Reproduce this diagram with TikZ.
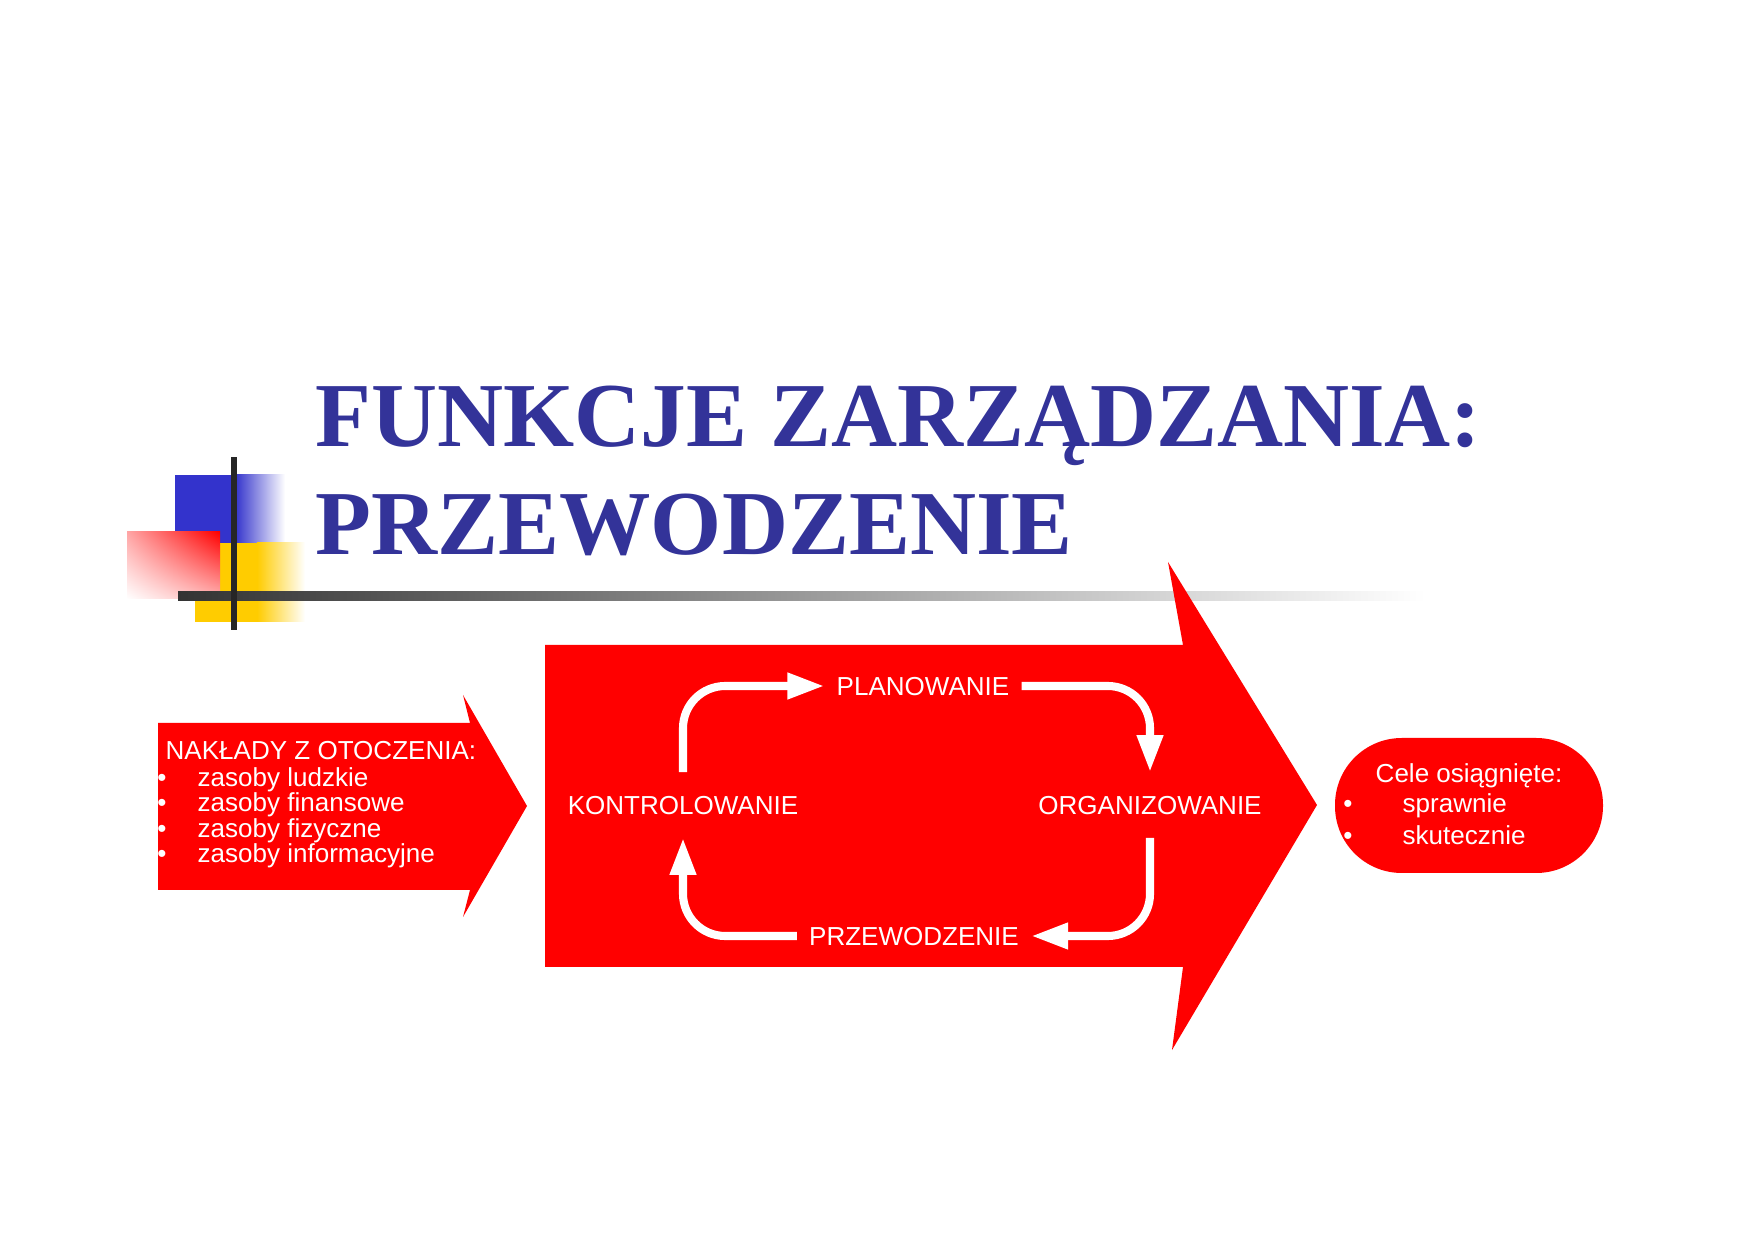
\documentclass[tikz,border=0pt]{standalone}
\usepackage{fontspec}
\setsansfont{Liberation Sans}
\newfontfamily\titlefont{Liberation Serif}
\usepackage{tikz}
\usetikzlibrary{arrows.meta}
\usetikzlibrary{shadings}

\definecolor{titleblue}{RGB}{51,51,153}
\definecolor{logoblue}{RGB}{51,51,204}
\definecolor{logoyellow}{RGB}{255,204,0}

\tikzset{
  ttl/.style={anchor=base west, inner sep=0pt, text=titleblue,
    font=\titlefont\bfseries\fontsize{26}{31}\selectfont},
  lbl/.style={inner sep=0pt, text=white, font=\sffamily\fontsize{7.4}{7.4}\selectfont},
  cyc/.style={lbl, text height=5.3pt, text depth=0pt, inner xsep=3.3pt, inner ysep=6.5pt},
  cycarrow/.style={draw=white, line width=2.3pt, rounded corners=12pt,
    -{Triangle[length=10.5pt,width=7pt]}}
}

\begin{document}
\begin{tikzpicture}[x=0.01cm, y=-0.01cm]
\useasboundingbox (0,0) rectangle (1754,1240);

% logo
\fill [color=logoblue] (175,475) rectangle (236,543);
\shade [left color=logoblue, right color=white] (235,475) rectangle (285,543);
\fill [color=logoyellow] (195,543) rectangle (258,622);
\shade [left color=logoyellow, right color=white] (257,543) rectangle (305,622);
\shade [upper left=red!35, upper right=red, lower left=white, lower right=red!30] (127,532) rectangle (220,599);
\shade [left color=black!80, right color=white] (178,592) rectangle (1425,601);
\fill [color=black!85] (231,457) rectangle (237,630);

% title
\node (title1) [ttl] at (315,447) {FUNKCJE ZARZĄDZANIA:};
\node (title2) [ttl] at (315,555) {PRZEWODZENIE};

% input arrow
\fill [color=red] (158,723) -- (470,723) -- (463,695) -- (527,806) -- (463,917) -- (470,890) -- (158,890) -- cycle;
\node (inputs) [lbl, anchor=base west] at (165,760) {NAKŁADY Z OTOCZENIA:};
\foreach \txt [count=\i] in {zasoby ludzkie, zasoby finansowe, zasoby fizyczne, zasoby informacyjne} {
  \node (bul\i) [lbl, anchor=base] at (162,{761+25.5*\i}) {•};
  \node (item\i) [lbl, anchor=base west] at (197,{761+25.5*\i}) {\txt};
}

% big arrow
\fill [color=red] (545,645) -- (1183,645) -- (1168,562) -- (1317,805) -- (1172,1050) -- (1183,967) -- (545,967) -- cycle;

\node (plan) [cyc] at (923,686) {PLANOWANIE};
\node (organ) [cyc] at (1150,805) {ORGANIZOWANIE};
\node (przew) [cyc] at (914,936) {PRZEWODZENIE};
\node (kontrol) [cyc] at (683,805) {KONTROLOWANIE};

\draw [cycarrow] (kontrol.north) |- (plan.west);
\draw [cycarrow] (plan.east) -| (organ.north);
\draw [cycarrow] (organ.south) |- (przew.east);
\draw [cycarrow] (przew.west) -| (kontrol.south);

% goals
\fill [color=red, rounded corners=19pt] (1335,738) rectangle (1603,873);
\node (goals) [lbl, anchor=base west] at (1375,783) {Cele osiągnięte:};
\node (gbul1) [lbl, anchor=base] at (1348,813) {•};
\node (goal1) [lbl, anchor=base west] at (1402,813) {sprawnie};
\node (gbul2) [lbl, anchor=base] at (1348,845) {•};
\node (goal2) [lbl, anchor=base west] at (1402,845) {skutecznie};

\end{tikzpicture}
\end{document}
